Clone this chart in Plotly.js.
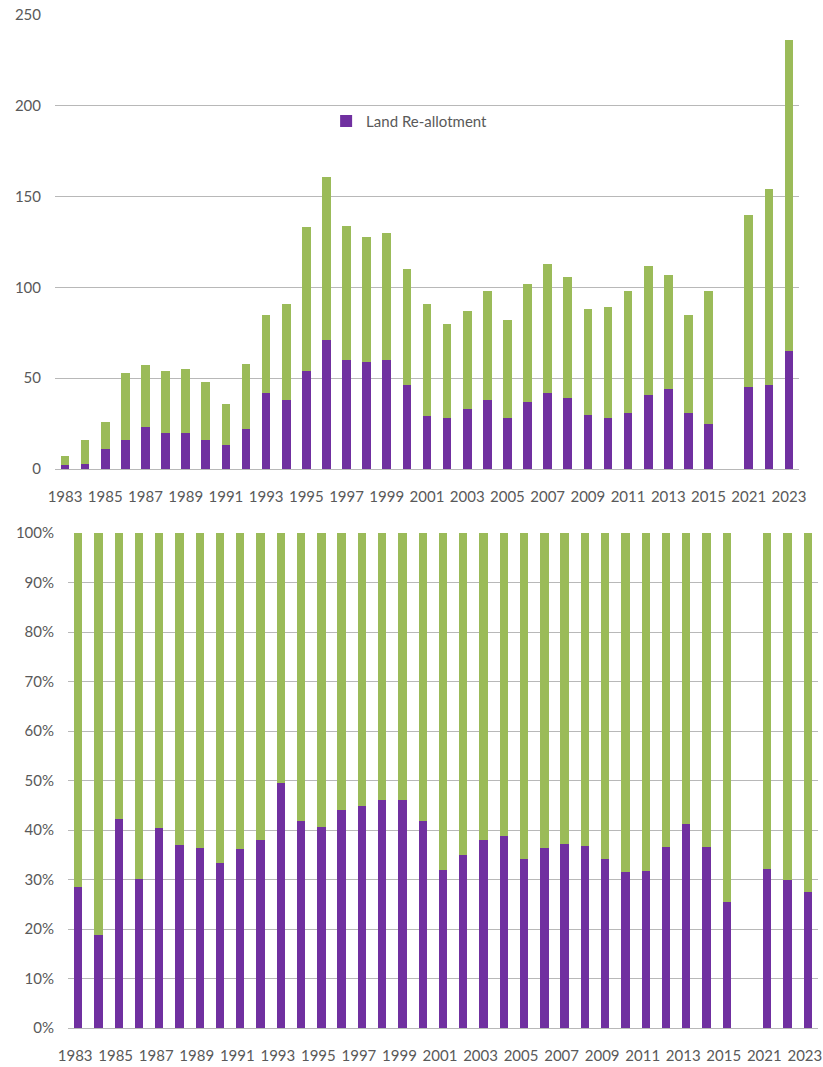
<!DOCTYPE html>
<html>
<head>
<meta charset="utf-8">
<script src="https://cdn.plot.ly/plotly-3.0.1.min.js"></script>
<style>
  html, body { margin: 0; padding: 0; background: #ffffff; overflow: hidden; }
  #totals { position: absolute; left: 0; top: 0; width: 823px; height: 512px; z-index: 2; }
  #shares { position: absolute; left: 0; top: 502px; width: 823px; height: 565px; z-index: 1; }
</style>
</head>
<body>
<div id="totals"></div>
<div id="shares"></div>
<script>
// Years shown on the category axis; the 2016-20 slot is kept empty as a spacer.
const years = [
  '1983', '1984', '1985', '1986', '1987', '1988', '1989', '1990', '1991', '1992',
  '1993', '1994', '1995', '1996', '1997', '1998', '1999', '2000', '2001', '2002',
  '2003', '2004', '2005', '2006', '2007', '2008', '2009', '2010', '2011', '2012',
  '2013', '2014', '2015', '2016-20', '2021', '2022', '2023'
];

// Land re-allotment projects per year
const landReallotment = [
  2, 3, 11, 16, 23, 20, 20, 16, 13, 22,
  42, 38, 54, 71, 60, 59, 60, 46, 29, 28,
  33, 38, 28, 37, 42, 39, 30, 28, 31, 41,
  44, 31, 25, null, 45, 46, 65
];

// All other projects per year (stacked on top)
const otherProjects = [
  5, 13, 15, 37, 34, 34, 35, 32, 23, 36,
  43, 53, 79, 90, 74, 69, 70, 64, 62, 52,
  54, 60, 54, 65, 71, 67, 58, 61, 67, 71,
  63, 54, 73, null, 95, 108, 171.5
];

// Every second year gets a tick label
const tickYears = years.filter((y, i) => i % 2 === 0);

const PURPLE = '#7030a0';
const GREEN = '#9bbb59';
const TEXT = '#595959';
const GRID = '#b8b8b8';
const FONT = 'Lato, "Open Sans", sans-serif';

function traces(showLegend) {
  return [
    {
      type: 'bar', name: 'Land Re-allotment', x: years, y: landReallotment,
      marker: { color: PURPLE, line: { width: 0 } }, showlegend: showLegend
    },
    {
      type: 'bar', name: 'Other', x: years, y: otherProjects,
      marker: { color: GREEN, line: { width: 0 } }, showlegend: false
    }
  ];
}

function xAxis(size, shift) {
  return {
    type: 'category', categoryorder: 'array', categoryarray: years,
    tickmode: 'array', tickvals: tickYears, ticktext: tickYears,
    tickangle: 0, ticks: '', ticklabelstandoff: 14, ticklabelshift: shift,
    showline: true, linecolor: GRID, linewidth: 1, showgrid: false,
    tickfont: { family: FONT, size: size, color: TEXT },
    fixedrange: true
  };
}

const config = { displayModeBar: false, staticPlot: true };

Plotly.newPlot('totals', traces(true), {
  width: 823, height: 512,
  margin: { l: 55, r: 24, t: 15, b: 43 },
  barmode: 'stack', bargap: 0.57,
  paper_bgcolor: 'rgba(0,0,0,0)', plot_bgcolor: 'rgba(0,0,0,0)',
  font: { family: FONT, color: TEXT },
  xaxis: xAxis(15, 0),
  yaxis: {
    range: [0, 250], dtick: 50, tick0: 0, ticks: '', ticklabelstandoff: 13,
    showgrid: true, gridcolor: GRID, gridwidth: 1, zeroline: false,
    tickfont: { family: FONT, size: 15, color: TEXT }, fixedrange: true
  },
  showlegend: true,
  legend: {
    x: 0.3644, y: 0.766, xanchor: 'left', yanchor: 'middle',
    bgcolor: 'rgba(0,0,0,0)', borderwidth: 0,
    font: { family: FONT, size: 15, color: TEXT }
  }
}, config);

Plotly.newPlot('shares', traces(false), {
  width: 823, height: 565,
  margin: { l: 68, r: 5, t: 31, b: 39 },
  barmode: 'stack', barnorm: 'percent', bargap: 0.59,
  paper_bgcolor: '#ffffff', plot_bgcolor: '#ffffff',
  font: { family: FONT, color: TEXT },
  xaxis: xAxis(15, -3),
  yaxis: {
    range: [0, 100], dtick: 10, tick0: 0, ticksuffix: '%', ticks: '', ticklabelstandoff: 13,
    showgrid: true, gridcolor: GRID, gridwidth: 1, zeroline: false,
    tickfont: { family: FONT, size: 15, color: TEXT }, fixedrange: true
  },
  showlegend: false
}, config);
</script>
</body>
</html>
